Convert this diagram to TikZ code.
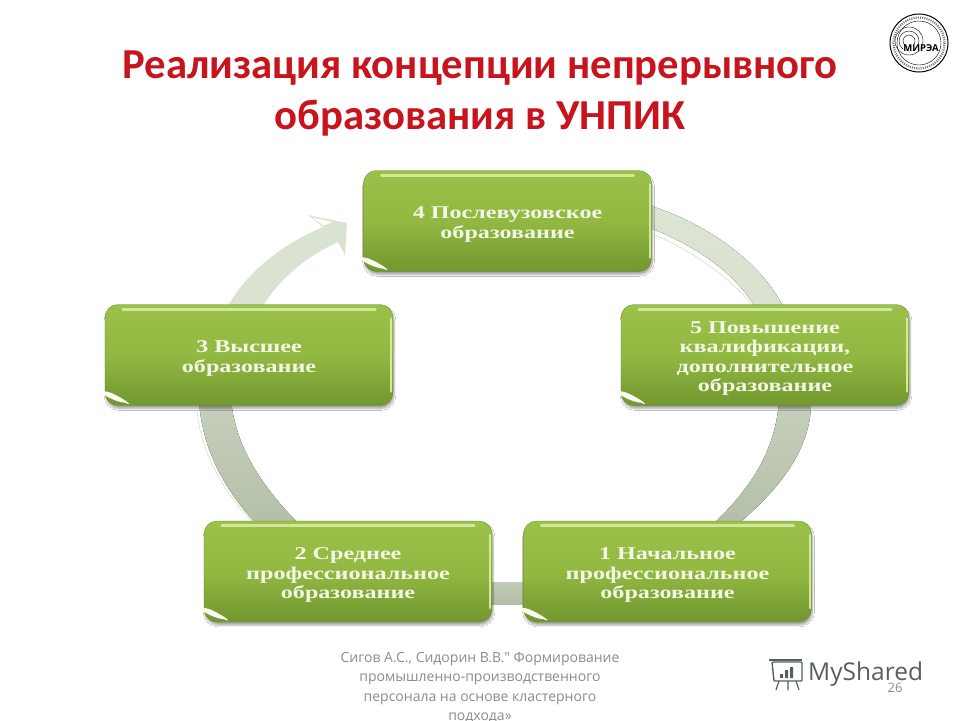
\documentclass[tikz,border=0pt]{standalone}
\usepackage{fontspec}
\setmainfont{Liberation Serif}
\newfontfamily\boxfont[FakeStretch=1.34]{Liberation Serif}
\newfontfamily\titlefont{Carlito}
\newfontfamily\notefont{Open Sans}
\usetikzlibrary{shadows.blur}
\definecolor{titlered}{HTML}{C8141C}
\definecolor{boxtop}{HTML}{9CC14B}
\definecolor{boxmid}{HTML}{93B842}
\definecolor{boxbot}{HTML}{71972F}
\definecolor{ringtop}{HTML}{DCE5D4}
\definecolor{ringlow}{HTML}{C6CFBC}
\definecolor{ringbot}{HTML}{B4BFA9}
\definecolor{arrowgreen}{HTML}{DAE3D1}
\definecolor{shinegreen}{HTML}{DDEFA6}
\definecolor{labeltext}{HTML}{F3F7E6}
\definecolor{notegray}{HTML}{8C8C8C}
\definecolor{logogray}{HTML}{56615C}
\tikzset{
  greenbox/.style={rounded corners=13pt, top color=boxtop, bottom color=boxbot, middle color=boxmid,
    draw=boxbot!90!black, line width=0.3pt, minimum width=288pt, minimum height=101pt,
    align=center, text=labeltext, font=\boxfont\fontsize{18}{19.6}\selectfont\bfseries,
    blur shadow={shadow xshift=1pt,shadow yshift=-3pt,shadow blur steps=6,shadow opacity=35}},
  shine/.style={shinegreen, opacity=.85, line width=3pt, line cap=round},
  titletext/.style={text=titlered, font=\titlefont\fontsize{42.7}{51}\selectfont\bfseries, align=center},
  notetext/.style={text=notegray, font=\notefont\fontsize{14}{19.2}\selectfont, align=center}
}
\newcommand{\glossbox}[1]{
  \draw[shine] ([xshift=18pt,yshift=-5pt]#1.north west) -- ([xshift=-18pt,yshift=-5pt]#1.north east);
  \draw[shinegreen,opacity=.9,line width=2pt,line cap=round] ([xshift=-2pt,yshift=-14pt]#1.north east) -- ([xshift=-2pt,yshift=14pt]#1.south east);
  \fill[white!85!shinegreen] ([xshift=2pt,yshift=14pt]#1.south west) .. controls +(8pt,-1pt) and +(14pt,-6pt) .. ([xshift=20pt,yshift=3pt]#1.south west) .. controls +(-10pt,0pt) and +(-16pt,3pt) .. cycle;
}
\newcommand{\lowerline}{\rule{0pt}{19pt}}
\begin{document}
\begin{tikzpicture}[x=1pt,y=-1pt]
\useasboundingbox (0,0) rectangle (960,720);
\fill[white] (0,0) rectangle (960,720);
% ring, piece by piece behind the boxes
\fill[top color=ringtop,bottom color=ringtop!85!ringlow] (645,204) .. controls (705,222) and (762,262) .. (785,310) -- (757,310) .. controls (735,272) and (695,245) .. (645,226) -- cycle;
\draw[ringlow!70,line width=.6pt] (655,235) .. controls (690,250) and (730,277) .. (752,305);
\fill[top color=ringlow,bottom color=ringbot] (811,400) .. controls (812,450) and (778,490) .. (737,525) -- (712,525) .. controls (750,490) and (776,450) .. (779,400) -- cycle;
\fill[top color=ringlow,bottom color=ringbot] (199,400) .. controls (202,450) and (225,490) .. (257,525) -- (300,525) .. controls (265,490) and (236,450) .. (231,400) -- cycle;
\draw[ringlow!70,line width=.6pt] (197,410) .. controls (200,450) and (222,490) .. (252,522);
\fill[top color=ringlow!70!ringbot,bottom color=ringbot] (485,582) rectangle (530,604);
% arrow
\fill[arrowgreen] (228,306) .. controls (248,270) and (285,243) .. (323,227) -- (308,215) -- (347,223) -- (345,255) -- (338,242) .. controls (310,255) and (282,275) .. (263,306) -- cycle;
\fill[white] (312,217.5) -- (333,222) -- (324,225.5) -- cycle;
% boxes
\node[greenbox] (b4) at (507.5,221) {\lowerline 4 Послевузовское\\образование};
\node[greenbox] (b5) at (765,355) {\lowerline 5 Повышение\\квалификации,\\дополнительное\\образование};
\node[greenbox] (b3) at (249,355) {\lowerline 3 Высшее\\образование};
\node[greenbox] (b2) at (348,571.5) {\lowerline 2 Среднее\\профессиональное\\образование};
\node[greenbox] (b1) at (667.5,571.5) {\lowerline 1 Начальное\\профессиональное\\образование};
\glossbox{b4}\glossbox{b5}\glossbox{b3}\glossbox{b2}\glossbox{b1}
% title
\node[titletext,anchor=base] (title1) at (480,78) {Реализация концепции непрерывного};
\node[titletext,anchor=base] (title2) at (480,129) {образования в УНПИК};
% seal
\node[draw=black,circle,line width=1pt,minimum size=58pt,inner sep=0pt] (seal) at (919,43) {};
\node[draw=black,circle,line width=.4pt,minimum size=44pt,inner sep=0pt] (sealin) at (919,43) {};
\draw[black!55,line width=2.2pt,dash pattern=on 1pt off 1.2pt] (919,43) circle[radius=25.5];
\foreach \r in {14,10,6}{\draw[black,line width=.4pt] (909,41) circle[radius=\r];}
\node[font=\notefont\bfseries\fontsize{9.5}{10}\selectfont,text=black,inner sep=0pt,fill=white,fill opacity=.7,text opacity=1] (sealtext) at (921,48) {МИРЭА};
% footnote (the last line runs off the page in the reference too)
\node[notetext,anchor=north] (note) at (480,649) {Сигов А.С., Сидорин В.В." Формирование\\промышленно-производственного\\персонала на основе кластерного\\подхода»};
% logo
\node[text=logogray,font=\notefont\fontsize{24.5}{25}\selectfont,inner sep=0pt,anchor=west] (logo) at (808,674) {MyShared};
\draw[logogray,line width=1.4pt,rounded corners=1pt] (772,662) -- (802,662) -- (802,681) -- (774,681) -- cycle;
\draw[logogray,line width=1.4pt] (769,660) -- (802,660);
\draw[logogray,line width=1.2pt] (779,681) -- (776,690) (788,681) -- (788,690) (796,681) -- (799,690);
\fill[logogray] (780,674) rectangle (783,678) (785,670) rectangle (788,678) (790,667) rectangle (793,678);
\node[text=notegray,font=\notefont\fontsize{13}{14}\selectfont,inner sep=0pt] (page) at (895,688) {26};
\end{tikzpicture}
\end{document}
